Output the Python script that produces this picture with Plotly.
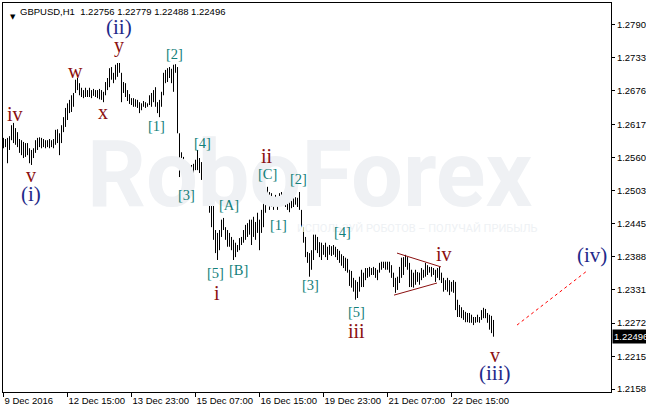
import plotly.graph_objects as go

# ---- data (GBPUSD H1) ----
highs = [
    1.2594, 1.2592, 1.2594, 1.2597, 1.2616, 1.2620, 1.2611, 1.2604, 1.2592, 1.2590,
    1.2587, 1.2585, 1.2585, 1.2576, 1.2573, 1.2576, 1.2590, 1.2594, 1.2595, 1.2594,
    1.2592, 1.2590, 1.2590, 1.2592, 1.2590, 1.2592, 1.2608, 1.2609, 1.2602, 1.2616,
    1.2630, 1.2646, 1.2654, 1.2660, 1.2668, 1.2672, 1.2695, 1.2698, 1.2689, 1.2681,
    1.2677, 1.2681, 1.2677, 1.2681, 1.2677, 1.2679, 1.2677, 1.2677, 1.2679, 1.2677,
    1.2674, 1.2691, 1.2698, 1.2715, 1.2717, 1.2707, 1.2721, 1.2724, 1.2724, 1.2707,
    1.2691, 1.2689, 1.2677, 1.2670, 1.2663, 1.2663, 1.2661, 1.2660, 1.2656, 1.2654,
    1.2658, 1.2656, 1.2654, 1.2668, 1.2672, 1.2677, 1.2682, 1.2656, 1.2660, 1.2674,
    1.2707, 1.2712, 1.2715, 1.2717, 1.2714, 1.2721, 1.2722, 1.2717, 1.2602, 1.2569,
    1.2561, 1.2543, 1.2542, 1.2547, 1.2547, 1.2549, 1.2556, 1.2573, 1.2559, 1.2552,
    1.2550, 1.2538, 1.2538, 1.2498, 1.2490, 1.2481, 1.2434, 1.2429, 1.2434, 1.2452,
    1.2455, 1.2439, 1.2434, 1.2429, 1.2422, 1.2417, 1.2412, 1.2408, 1.2420, 1.2422,
    1.2434, 1.2443, 1.2446, 1.2452, 1.2452, 1.2457, 1.2448, 1.2464, 1.2452, 1.2469,
    1.2481, 1.2498, 1.2509, 1.2500, 1.2498, 1.2486, 1.2495, 1.2490, 1.2498, 1.2500,
    1.2498, 1.2498, 1.2491, 1.2483, 1.2486, 1.2490, 1.2491, 1.2490, 1.2500, 1.2469,
    1.2439, 1.2422, 1.2396, 1.2394, 1.2399, 1.2426, 1.2426, 1.2422, 1.2413, 1.2412,
    1.2408, 1.2412, 1.2405, 1.2408, 1.2406, 1.2408, 1.2405, 1.2401, 1.2398, 1.2392,
    1.2389, 1.2386, 1.2384, 1.2365, 1.2363, 1.2351, 1.2347, 1.2344, 1.2353, 1.2365,
    1.2360, 1.2368, 1.2368, 1.2370, 1.2368, 1.2370, 1.2368, 1.2365, 1.2377, 1.2379,
    1.2379, 1.2379, 1.2379, 1.2379, 1.2373, 1.2360, 1.2351, 1.2353, 1.2370, 1.2386,
    1.2387, 1.2391, 1.2387, 1.2377, 1.2365, 1.2360, 1.2365, 1.2361, 1.2360, 1.2368,
    1.2365, 1.2377, 1.2373, 1.2370, 1.2370, 1.2368, 1.2365, 1.2368, 1.2370, 1.2360,
    1.2351, 1.2347, 1.2351, 1.2347, 1.2344, 1.2347, 1.2344, 1.2313, 1.2304, 1.2300,
    1.2295, 1.2292, 1.2290, 1.2290, 1.2287, 1.2283, 1.2283, 1.2287, 1.2283, 1.2295,
    1.2299, 1.2297, 1.2290, 1.2287, 1.2285, 1.22779,
]
lows = [
    1.2576, 1.2578, 1.2550, 1.2573, 1.2590, 1.2585, 1.2582, 1.2578, 1.2568, 1.2564,
    1.2559, 1.2561, 1.2564, 1.2550, 1.2547, 1.2559, 1.2568, 1.2573, 1.2578, 1.2576,
    1.2578, 1.2576, 1.2578, 1.2576, 1.2578, 1.2576, 1.2582, 1.2585, 1.2564, 1.2585,
    1.2604, 1.2613, 1.2625, 1.2637, 1.2639, 1.2648, 1.2672, 1.2677, 1.2668, 1.2665,
    1.2663, 1.2665, 1.2665, 1.2665, 1.2663, 1.2667, 1.2665, 1.2663, 1.2661, 1.2660,
    1.2656, 1.2668, 1.2677, 1.2682, 1.2695, 1.2689, 1.2695, 1.2700, 1.2707, 1.2656,
    1.2672, 1.2665, 1.2658, 1.2653, 1.2651, 1.2648, 1.2648, 1.2646, 1.2637, 1.2642,
    1.2648, 1.2646, 1.2648, 1.2651, 1.2648, 1.2656, 1.2648, 1.2637, 1.2630, 1.2648,
    1.2668, 1.2689, 1.2691, 1.2698, 1.2689, 1.2674, 1.2707, 1.2602, 1.2526, 1.2538,
    1.2533, 1.2516, 1.2509, 1.2516, 1.2530, 1.2528, 1.2538, 1.2538, 1.2533, 1.2521,
    1.2512, 1.2498, 1.2478, 1.2464, 1.2439, 1.2417, 1.2394, 1.2382, 1.2399, 1.2422,
    1.2434, 1.2417, 1.2405, 1.2405, 1.2399, 1.2382, 1.2387, 1.2396, 1.2399, 1.2408,
    1.2412, 1.2417, 1.2422, 1.2426, 1.2408, 1.2422, 1.2417, 1.2429, 1.2399, 1.2429,
    1.2439, 1.2464, 1.2478, 1.2469, 1.2474, 1.2469, 1.2474, 1.2469, 1.2481, 1.2478,
    1.2483, 1.2474, 1.2469, 1.2465, 1.2472, 1.2474, 1.2478, 1.2474, 1.2469, 1.2439,
    1.2412, 1.2387, 1.2377, 1.2353, 1.2365, 1.2382, 1.2399, 1.2394, 1.2387, 1.2382,
    1.2391, 1.2387, 1.2382, 1.2391, 1.2389, 1.2391, 1.2387, 1.2382, 1.2377, 1.2372,
    1.2368, 1.2363, 1.2360, 1.2337, 1.2334, 1.2327, 1.2313, 1.2316, 1.2327, 1.2335,
    1.2335, 1.2347, 1.2351, 1.2353, 1.2356, 1.2356, 1.2351, 1.2347, 1.2360, 1.2365,
    1.2368, 1.2365, 1.2365, 1.2360, 1.2351, 1.2335, 1.2325, 1.2330, 1.2342, 1.2351,
    1.2356, 1.2370, 1.2365, 1.2335, 1.2335, 1.2334, 1.2339, 1.2344, 1.2339, 1.2347,
    1.2351, 1.2353, 1.2356, 1.2360, 1.2353, 1.2356, 1.2344, 1.2351, 1.2347, 1.2342,
    1.2327, 1.2330, 1.2327, 1.2321, 1.2327, 1.2325, 1.2295, 1.2283, 1.2283, 1.2281,
    1.2278, 1.2274, 1.2274, 1.2273, 1.2273, 1.2269, 1.2273, 1.2274, 1.2273, 1.2278,
    1.2281, 1.2281, 1.2273, 1.2261, 1.2255, 1.22488,
]

x_tick_bars = [0, 32, 64, 96, 128, 160, 192, 224]
x_tick_labels = ["9 Dec 2016", "12 Dec 15:00", "13 Dec 23:00", "15 Dec 07:00",
                 "16 Dec 15:00", "19 Dec 23:00", "21 Dec 07:00", "22 Dec 15:00"]
y_tick_labels = ["1.27905", "1.27330", "1.26760", "1.26175", "1.25600", "1.25030",
                 "1.24455", "1.23880", "1.23310", "1.22725", "1.22150", "1.21580"]
y_tick_vals = [float(s) for s in y_tick_labels]

title_text = "GBPUSD,H1  1.22756 1.22779 1.22488 1.22496"
last_close = 1.22496

# wave labels: text, bar position, price, degree
wave_text = ["(ii)", "y", "w", "x", "iv", "v", "(i)",
             "[2]", "[1]", "[3]", "[4]", "[A]", "[5]", "i", "[B]",
             "ii", "[C]", "[1]", "[2]", "[3]", "[4]", "[5]", "iii",
             "iv", "v", "(iii)", "(iv)"]
wave_x = [57.7, 57.7, 36.2, 49.7, 5.7, 13.7, 13.7,
          85.7, 76.7, 91.7, 99.7, 112.7, 106.2, 106.7, 117.7,
          131.7, 132.2, 137.7, 147.7, 153.7, 169.7, 176.7, 176.7,
          220.2, 245.7, 245.7, 294.2]
wave_y = [1.2787, 1.2755, 1.2710, 1.2639, 1.2635, 1.2530, 1.2496,
          1.2739, 1.2615, 1.2494, 1.2586, 1.2477, 1.2359, 1.2325, 1.2365,
          1.2562, 1.2532, 1.2442, 1.2522, 1.2339, 1.2431, 1.2292, 1.2259,
          1.2392, 1.2217, 1.2185, 1.2390]
wave_deg = ["int", "min", "min", "min", "min", "min", "int",
            "minu", "minu", "minu", "minu", "minu", "minu", "min", "minu",
            "min", "minu", "minu", "minu", "minu", "minu", "minu", "min",
            "min", "min", "int", "int"]

# triangle (wave iv) and projected path
tri_upper_x = [196.75, 218.75]
tri_upper_y = [1.2394, 1.2370]
tri_lower_x = [195.25, 216.75]
tri_lower_y = [1.2321, 1.2342]
proj_x = [256.75, 291.75]
proj_y = [1.2269, 1.2363]

deg_style = {
    "int": dict(color="#1f2a8a", size=21),
    "min": dict(color="#8b1010", size=20),
    "minu": dict(color="#13807a", size=14.5),
}

# ---- figure ----
bx, by = [], []
for i, (h, l) in enumerate(zip(highs, lows)):
    bx += [i, i, None]
    by += [l, h, None]

fig = go.Figure()
fig.add_trace(go.Scatter(x=bx, y=by, mode="lines",
                         line=dict(color="black", width=1),
                         hoverinfo="skip", showlegend=False))
for xs, ys in [(tri_upper_x, tri_upper_y), (tri_lower_x, tri_lower_y)]:
    fig.add_trace(go.Scatter(x=xs, y=ys, mode="lines",
                             line=dict(color="#8b1010", width=1),
                             hoverinfo="skip", showlegend=False))
fig.add_trace(go.Scatter(x=proj_x, y=proj_y, mode="lines",
                         line=dict(color="red", width=1, dash="dot"),
                         hoverinfo="skip", showlegend=False))

ann = []
# watermark
ann.append(dict(text="<b>RoboForex</b>", x=0.505, y=0.56, xref="paper", yref="paper",
                showarrow=False, font=dict(family="Roboto", size=92, color="#eff1f4")))
ann.append(dict(text="ИСПОЛЬЗУЙ РОБОТОВ – ПОЛУЧАЙ ПРИБЫЛЬ", x=0.48, y=0.42,
                xref="paper", yref="paper", xanchor="left", showarrow=False,
                font=dict(family="Roboto", size=11, color="#eef1f4")))
for t, x, y, d in zip(wave_text, wave_x, wave_y, wave_deg):
    st = deg_style[d]
    ann.append(dict(text=t, x=x, y=y, xref="x", yref="y", showarrow=False,
                    font=dict(family="Liberation Serif", size=st["size"], color=st["color"])))
# title
ann.append(dict(text="▼", x=0.0075, y=0.979, xref="paper", yref="paper", showarrow=False,
                font=dict(family="DejaVu Sans", size=7, color="black")))
ann.append(dict(text=title_text, x=0.025, y=0.979, xref="paper", yref="paper",
                xanchor="left", yanchor="middle", showarrow=False,
                font=dict(family="Liberation Sans", size=9.5, color="black")))
# current price tag
ann.append(dict(text="1.22496", x=1, y=last_close, xref="paper", yref="y",
                xanchor="left", yanchor="middle", showarrow=False, xshift=1,
                bgcolor="black", borderpad=1,
                font=dict(family="Liberation Sans", size=9.5, color="white")))

fig.update_layout(
    width=646, height=414,
    margin=dict(l=3, r=35, t=3, b=22, autoexpand=False),
    paper_bgcolor="white", plot_bgcolor="white",
    showlegend=False,
    annotations=ann,
    xaxis=dict(range=[-0.25, 303.75], tickvals=x_tick_bars, ticktext=x_tick_labels,
               ticks="outside", ticklen=4, tickcolor="black", tickangle=0,
               ticklabelposition="outside right",
               tickfont=dict(family="Liberation Sans", size=9.5, color="black"),
               showline=True, linecolor="black", linewidth=1, mirror=True,
               showgrid=False, zeroline=False, fixedrange=True),
    yaxis=dict(range=[1.21528, 1.28282], side="right",
               tickvals=y_tick_vals, ticktext=y_tick_labels,
               ticks="outside", ticklen=3, tickcolor="black",
               tickfont=dict(family="Liberation Sans", size=9.5, color="black"),
               showline=True, linecolor="black", linewidth=1, mirror=True,
               showgrid=False, zeroline=False, fixedrange=True),
)
fig.write_html("out.html", config={"displayModeBar": False},
               post_script="document.body.style.margin='0';document.body.style.overflow='hidden';")
